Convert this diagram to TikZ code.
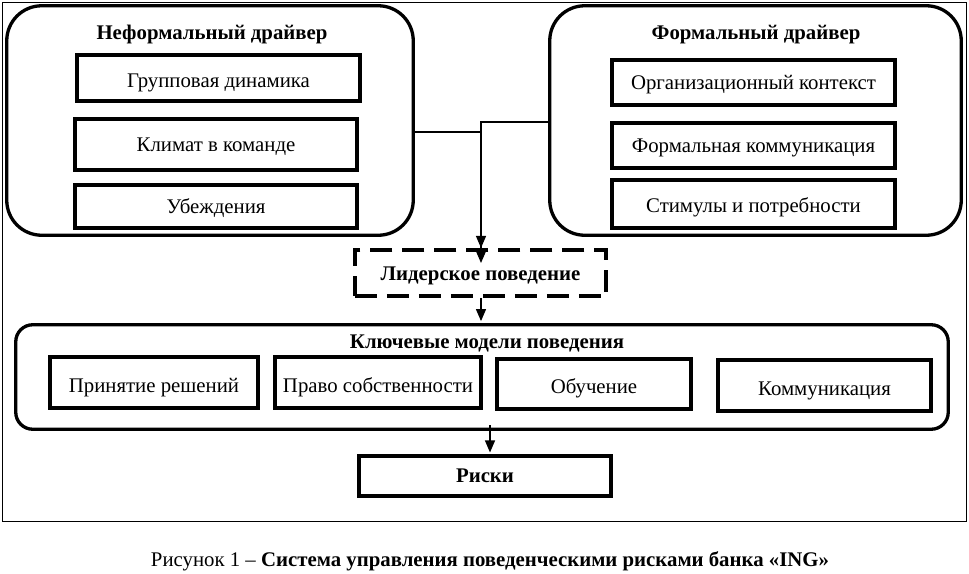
\documentclass[tikz,border=0pt]{standalone}
\usepackage{fontspec}
\setmainfont{Liberation Serif}
\usetikzlibrary{arrows.meta,calc}
\newcommand\fsz{\fontsize{20.8}{22}\selectfont}
\begin{document}
\begin{tikzpicture}[x=1pt,y=-1pt,
  bigbox/.style={draw,line width=3.3pt,rounded corners=35pt,inner sep=0pt},
  keybox/.style={draw,line width=3.3pt,rounded corners=17pt,inner sep=0pt},
  bl/.style={text height={10pt+#1pt},text depth={10pt-#1pt}},
  itembox/.style={draw,line width=3.6pt,inner sep=0pt,font=\fsz},
  dashbox/.style={draw,line width=3.6pt,dash pattern=on 22pt off 10pt,inner sep=0pt,font=\bfseries\fsz},
  title/.style={font=\bfseries\fsz,inner sep=0pt,anchor=base},
  arr/.style={line width=1.2pt,-{Triangle[width=10pt,length=12pt]}}
]
\useasboundingbox (0,0) rectangle (969,573);
\node[draw,line width=1pt,minimum width=964pt,minimum height=519pt,inner sep=0pt] (frame) at (484.5,262) {};
% informal
\node[bigbox,minimum width=406.5pt,minimum height=229.5pt] (L) at (210,120.5) {};
\node[title] (Lt) at (212,39) {Неформальный драйвер};
\node[itembox,bl=9,minimum width=283.5pt,minimum height=46.5pt] (L1) at (218.5,78) {Групповая динамика};
\node[itembox,bl=6.5,minimum width=282.5pt,minimum height=51.5pt] (L2) at (216,144.5) {Климат в команде};
\node[itembox,bl=6.5,minimum width=282.5pt,minimum height=43.5pt] (L3) at (216,206.5) {Убеждения};
% formal
\node[bigbox,minimum width=411.5pt,minimum height=229.5pt] (R) at (755.5,120.5) {};
\node[title] (Rt) at (756,39) {Формальный драйвер};
\node[itembox,bl=6.5,minimum width=283.5pt,minimum height=45.5pt] (R1) at (753.5,82.5) {Организационный контекст};
\node[itembox,bl=6.5,minimum width=283.5pt,minimum height=45.5pt] (R2) at (753.5,145.5) {Формальная коммуникация};
\node[itembox,bl=8,minimum width=283.5pt,minimum height=48.5pt] (R3) at (753.5,204) {Стимулы и потребности};
% leadership
\node[dashbox,bl=7,minimum width=251.5pt,minimum height=46.5pt] (D) at (480.5,273) {Лидерское поведение};
% key models
\node[keybox,minimum width=932.5pt,minimum height=104.5pt] (K) at (482,377) {};
\node[title] (Kt) at (487,348) {Ключевые модели поведения};
\node[itembox,bl=9.5,minimum width=208.5pt,minimum height=51.5pt] (K1) at (154,382.5) {Принятие решений};
\node[itembox,bl=9.5,minimum width=206.5pt,minimum height=51.5pt] (K2) at (378,382.5) {Право собственности};
\node[itembox,bl=9,minimum width=194.5pt,minimum height=50.5pt] (K3) at (594,384) {Обучение};
\node[itembox,bl=9.5,minimum width=213.5pt,minimum height=51.5pt] (K4) at (824.5,385.5) {Коммуникация};
% risks
\node[itembox,bl=6,font=\bfseries\fsz,minimum width=252.5pt,minimum height=40.5pt] (Risk) at (485,476) {Риски};
% caption
\node[inner sep=0pt,font=\fsz,anchor=base] (cap) at (490,566) {Рисунок 1 – \textbf{Система управления поведенческими рисками банка «ING»}};
% connectors
\coordinate (jR) at (481,122);
\coordinate (jL) at (481,132);
\coordinate (tip2) at (481,263);
\coordinate (kS) at (490,425);
\draw[arr] (R.west |- jR) -- (jR) -- (jR |- D.north);
\draw[arr] (L.east |- jL) -- (jL) -- (tip2);
\draw[arr,shorten >=2pt] (D.south -| jR) -- (jR |- K.north);
\draw[arr,shorten >=1.5pt] (kS) -- (kS |- Risk.north);
\end{tikzpicture}
\end{document}
